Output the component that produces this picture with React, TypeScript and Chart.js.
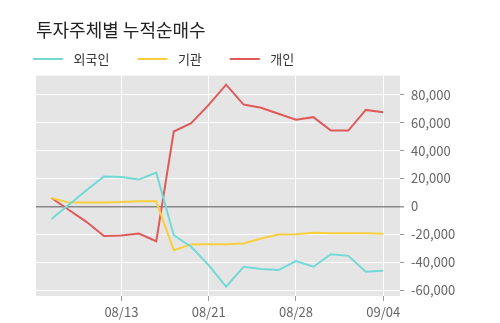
import React, { useEffect, useRef } from 'react';
import { Chart, registerables } from 'chart.js';

Chart.register(...registerables);

const dates = ['08/07', '08/08', '08/09', '08/10', '08/13', '08/14', '08/16', '08/17', '08/20', '08/21', '08/22', '08/23', '08/24', '08/27', '08/28', '08/29', '08/30', '08/31', '09/03', '09/04'];
const foreignNet = [-9000, 1300, 11500, 21500, 21000, 19200, 24200, -20700, -29000, -42100, -57600, -43300, -45000, -45700, -39300, -43300, -34300, -35500, -46900, -46200];
const institutionNet = [6000, 2700, 2700, 2700, 3200, 3600, 3600, -31400, -27300, -27100, -27100, -26600, -23000, -20200, -20000, -19000, -19300, -19300, -19300, -19700];
const individualNet = [6000, -2600, -11100, -21200, -20900, -19500, -25000, 53700, 59700, 72800, 87300, 73000, 70700, 66400, 62100, 64000, 54400, 54400, 69200, 67500];
const seriesLabels = ['외국인', '기관', '개인'];
const seriesColors = ['#72d9d6', '#f8d03e', '#e05a5a'];
const xTickIndices = [4, 9, 14, 19];
const yTickValues = [-60000, -40000, -20000, 0, 20000, 40000, 60000, 80000];
const titleText = '투자주체별 누적순매수';

export default function App() {
  const ref = useRef<HTMLCanvasElement>(null);

  useEffect(() => {
    const canvas = ref.current;
    if (!canvas) return;
    Chart.defaults.font.family = "'Noto Sans CJK KR', 'Noto Sans', sans-serif";

    const swatches = seriesColors.map((c) => {
      const sw = document.createElement('canvas');
      sw.width = 52;
      sw.height = 2;
      const g = sw.getContext('2d');
      if (g) {
        g.fillStyle = c;
        g.fillRect(18, 0, 30, 2);
      }
      return sw;
    });

    const plotBg = {
      id: 'plotBg',
      beforeDraw(chart: any) {
        const { ctx, chartArea: a } = chart;
        ctx.save();
        ctx.fillStyle = '#e5e5e5';
        ctx.fillRect(a.left, a.top, a.right - a.left, a.bottom - a.top);
        ctx.restore();
      },
    };

    const series = [foreignNet, institutionNet, individualNet];

    const chart = new Chart(canvas, {
      type: 'line',
      data: {
        datasets: series.map((vals, s) => ({
          label: seriesLabels[s],
          data: vals.map((y, i) => ({ x: i, y })),
          borderColor: seriesColors[s],
          backgroundColor: seriesColors[s],
          borderWidth: 2,
          pointRadius: 0,
          tension: 0,
          fill: false,
        })),
      },
      options: {
        animation: false,
        responsive: false,
        maintainAspectRatio: false,
        layout: { padding: { left: 5, right: 0, top: 0, bottom: 0 } },
        plugins: {
          title: {
            display: true,
            text: titleText,
            align: 'start',
            fullSize: false,
            color: '#222',
            font: { size: 18, weight: 'normal' },
            padding: { top: 19, bottom: 2 },
          },
          legend: {
            display: true,
            position: 'top',
            align: 'start',
            labels: {
              usePointStyle: true,
              pointStyleWidth: 52,
              boxHeight: 13,
              padding: 10,
              color: '#333',
              font: { size: 13 },
              generateLabels: (ch: any) =>
                (Chart.defaults.plugins.legend.labels.generateLabels as any)(ch).map((it: any, i: number) => ({
                  ...it,
                  pointStyle: swatches[i],
                })),
            },
          },
          tooltip: { enabled: false },
        },
        scales: {
          x: {
            type: 'linear',
            position: 'bottom',
            min: -0.89,
            max: 19.96,
            afterBuildTicks: (s: any) => {
              s.ticks = xTickIndices.map((v) => ({ value: v }));
            },
            afterFit: (s: any) => {
              s.height = 27;
            },
            ticks: {
              callback: (v: any) => dates[Number(v)] ?? '',
              color: '#666',
              font: { size: 13 },
              padding: 3,
              maxRotation: 0,
              autoSkip: false,
            },
            grid: { color: '#ffffff', lineWidth: 1, tickColor: '#999', tickLength: 5 },
            border: { display: false },
          },
          y: {
            type: 'linear',
            position: 'right',
            min: -64300,
            max: 93800,
            afterBuildTicks: (s: any) => {
              s.ticks = yTickValues.map((v) => ({ value: v }));
            },
            afterFit: (s: any) => {
              s.width = 100;
            },
            ticks: {
              callback: (v: any) => Number(v).toLocaleString('en-US'),
              color: '#666',
              font: { size: 13 },
              padding: 7,
            },
            grid: {
              color: (c: any) => (c.tick && c.tick.value === 0 ? '#888888' : '#ffffff'),
              lineWidth: (c: any) => (c.tick && c.tick.value === 0 ? 1.5 : 1),
              tickColor: '#999',
              tickLength: 4,
            },
            border: { display: false },
          },
          pad: {
            type: 'linear',
            position: 'left',
            display: true,
            afterFit: (s: any) => {
              s.width = 31;
            },
            ticks: { display: false },
            grid: { display: false, drawTicks: false },
            border: { display: false },
          },
        },
      } as any,
      plugins: [plotBg],
    });

    return () => chart.destroy();
  }, []);

  return (
    <div style={{ position: 'fixed', left: 0, top: 0, width: 500, height: 323, background: '#fff' }}>
      <canvas ref={ref} width={500} height={323} style={{ display: 'block', width: 500, height: 323 }} />
    </div>
  );
}
